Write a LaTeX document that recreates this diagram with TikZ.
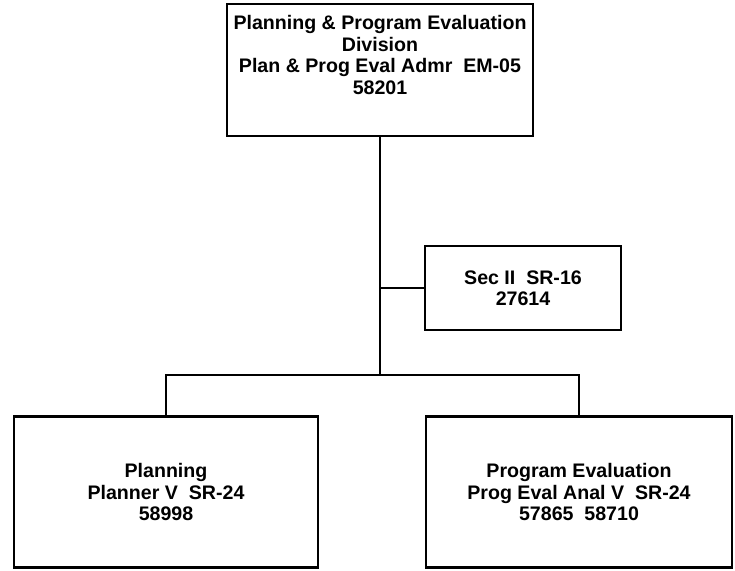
\documentclass[tikz,border=0pt]{standalone}
\usepackage{fontspec}
\setmainfont{Liberation Sans}
\usepackage{tikz}
\usetikzlibrary{calc, positioning}

\begin{document}
\begin{tikzpicture}[x=1pt,y=-1pt,-,auto,
                    unit node/.style={rectangle,draw,line width=2.6pt,align=center,
                      font=\fontsize{19.6}{21.5}\selectfont\bfseries,inner sep=0pt},
                    link/.style={line width=1.8pt}]

  \useasboundingbox (0,0) rectangle (735,570);

  \node[unit node,minimum width=306pt,minimum height=132pt] (div) at (380,70)
    {Planning \& Program Evaluation\\Division\\Plan \& Prog Eval Admr~~EM-05\\58201\\[9pt]\mbox{}};
  \node[unit node,minimum width=196pt,minimum height=84pt] (sec) at (523,288)
    {Sec II~~SR-16\\27614};
  \node[unit node,minimum width=304pt,minimum height=151pt] (plan) at (166,492)
    {Planning\\Planner V~~SR-24\\58998};
  \node[unit node,minimum width=306pt,minimum height=151pt] (eval) at (579,492)
    {Program Evaluation\\Prog Eval Anal V~~SR-24\\57865~~58710};

  \coordinate (hub) at (div.south |- 0,375);
  \coordinate (tap) at (div.south |- sec.west);

  \path[link]
    (div.south) edge (hub)
    (tap) edge (sec.west);
  \draw[link] (plan.north) |- (hub) -| (eval.north);

\end{tikzpicture}
\end{document}
